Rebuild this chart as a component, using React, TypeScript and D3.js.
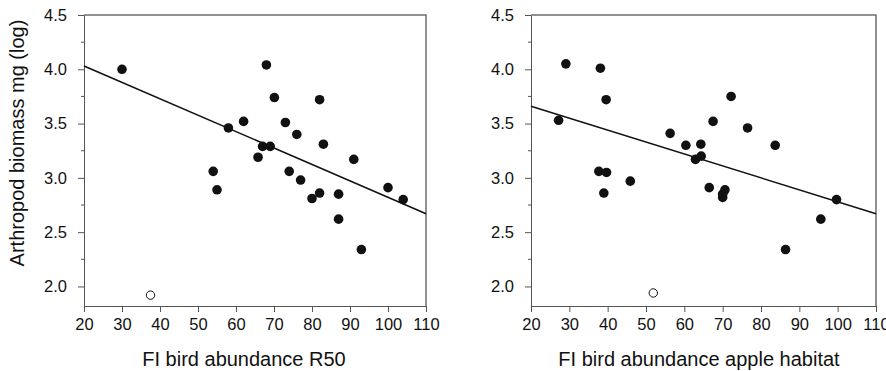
import React, { useEffect, useRef } from 'react'
import * as d3 from 'd3'

// Left panel: FI bird abundance within R50 vs arthropod biomass (log)
const r50Abundance = [30, 68, 70.1, 82, 58, 62, 73, 76, 67, 69, 83, 65.8, 91, 54, 55, 74, 77, 80, 82, 87, 87, 93, 100, 104]
const r50Biomass = [4.0, 4.04, 3.74, 3.72, 3.46, 3.52, 3.51, 3.4, 3.29, 3.29, 3.31, 3.19, 3.17, 3.06, 2.89, 3.06, 2.98, 2.81, 2.86, 2.85, 2.62, 2.34, 2.91, 2.8]
const r50OutlierAbundance = [37.5]
const r50OutlierBiomass = [1.92]
const r50Fit = [4.03, 2.67] // fitted biomass at abundance 20 and 110

// Right panel: FI bird abundance in apple habitat vs arthropod biomass (log)
const appleAbundance = [29.1, 38.1, 39.6, 27.2, 56.3, 60.4, 64.3, 67.5, 72.2, 76.5, 83.7, 62.9, 64.4, 37.7, 39.7, 45.9, 39, 66.5, 70.6, 70, 70, 99.7, 95.6, 86.4]
const appleBiomass = [4.05, 4.01, 3.72, 3.53, 3.41, 3.3, 3.31, 3.52, 3.75, 3.46, 3.3, 3.17, 3.2, 3.06, 3.05, 2.97, 2.86, 2.91, 2.89, 2.85, 2.82, 2.8, 2.62, 2.34]
const appleOutlierAbundance = [51.9]
const appleOutlierBiomass = [1.94]
const appleFit = [3.66, 2.67]

const xDomain = [20, 110]
const yDomain = [1.82, 4.5]
const xTicks = [20, 30, 40, 50, 60, 70, 80, 90, 100, 110]
const yTicks = [2.0, 2.5, 3.0, 3.5, 4.0, 4.5]
const yMinorTicks = [2.25, 2.75, 3.25, 3.75, 4.25]

const FONT = '"Liberation Sans", Arial, sans-serif'

interface PanelSpec {
  left: number
  right: number
  xs: number[]
  ys: number[]
  outX: number[]
  outY: number[]
  fit: number[]
  title: string
  titleX: number
}

const App: React.FC = () => {
  const svgRef = useRef<SVGSVGElement | null>(null)

  useEffect(() => {
    if (!svgRef.current) return
    const svg = d3.select(svgRef.current)
    svg.selectAll('*').remove()

    const top = 15
    const bottom = 306

    const panels: PanelSpec[] = [
      { left: 84, right: 426, xs: r50Abundance, ys: r50Biomass, outX: r50OutlierAbundance, outY: r50OutlierBiomass, fit: r50Fit, title: 'FI bird abundance R50', titleX: 244 },
      { left: 531, right: 876, xs: appleAbundance, ys: appleBiomass, outX: appleOutlierAbundance, outY: appleOutlierBiomass, fit: appleFit, title: 'FI bird abundance apple habitat', titleX: 699 },
    ]

    panels.forEach(p => {
      const x = d3.scaleLinear().domain(xDomain).range([p.left, p.right])
      const y = d3.scaleLinear().domain(yDomain).range([bottom, top])
      const g = svg.append('g')

      // frame (top and right)
      g.append('path')
        .attr('d', `M${p.left},${top}H${p.right}V${bottom}`)
        .attr('fill', 'none')
        .attr('stroke', '#6e6e6e')
        .attr('stroke-width', 1.5)

      // x axis
      const xAxis = g.append('g')
        .attr('transform', `translate(0,${bottom})`)
        .call(d3.axisBottom(x).tickValues(xTicks).tickSize(6).tickSizeOuter(0).tickPadding(6).tickFormat(d3.format('d')))
      xAxis.select('.domain').attr('stroke', '#555')
      xAxis.selectAll('.tick line').attr('stroke', '#555')
      xAxis.selectAll('text')
        .attr('fill', '#111')
        .style('font-family', FONT)
        .style('font-size', '16.5px')

      // y axis, major + minor ticks
      const yAxis = g.append('g')
        .attr('transform', `translate(${p.left},0)`)
        .call(d3.axisLeft(y).tickValues(yTicks).tickSize(6).tickSizeOuter(0).tickPadding(11).tickFormat(d3.format('.1f')))
      yAxis.select('.domain').attr('stroke', '#555')
      yAxis.selectAll('.tick line').attr('stroke', '#555')
      yAxis.selectAll('text')
        .attr('fill', '#111')
        .style('font-family', FONT)
        .style('font-size', '16.5px')

      g.append('g')
        .selectAll('line')
        .data(yMinorTicks)
        .join('line')
        .attr('x1', p.left - 3)
        .attr('x2', p.left)
        .attr('y1', d => y(d))
        .attr('y2', d => y(d))
        .attr('stroke', '#555')

      // regression line
      g.append('line')
        .attr('x1', x(xDomain[0]))
        .attr('y1', y(p.fit[0]))
        .attr('x2', x(xDomain[1]))
        .attr('y2', y(p.fit[1]))
        .attr('stroke', '#111')
        .attr('stroke-width', 1.5)

      // points
      g.append('g')
        .selectAll('circle')
        .data(p.xs.map((v, i) => [v, p.ys[i]]))
        .join('circle')
        .attr('cx', d => x(d[0]))
        .attr('cy', d => y(d[1]))
        .attr('r', 4.8)
        .attr('fill', '#111')

      // excluded point (open)
      g.append('g')
        .selectAll('circle')
        .data(p.outX.map((v, i) => [v, p.outY[i]]))
        .join('circle')
        .attr('cx', d => x(d[0]))
        .attr('cy', d => y(d[1]))
        .attr('r', 4.2)
        .attr('fill', '#fff')
        .attr('stroke', '#111')
        .attr('stroke-width', 1)

      // x title
      g.append('text')
        .attr('x', p.titleX)
        .attr('y', 366)
        .attr('text-anchor', 'middle')
        .attr('fill', '#111')
        .style('font-family', FONT)
        .style('font-size', '20px')
        .text(p.title)
    })

    // y title (shared, left only)
    svg.append('text')
      .attr('transform', 'translate(24,143) rotate(-90)')
      .attr('text-anchor', 'middle')
      .attr('fill', '#111')
      .style('font-family', FONT)
      .style('font-size', '20px')
      .text('Arthropod biomass mg (log)')
  }, [])

  return (
    <svg
      ref={svgRef}
      width={886}
      height={371}
      style={{ position: 'absolute', left: 0, top: 0, background: '#fff', display: 'block' }}
    />
  )
}

export default App
